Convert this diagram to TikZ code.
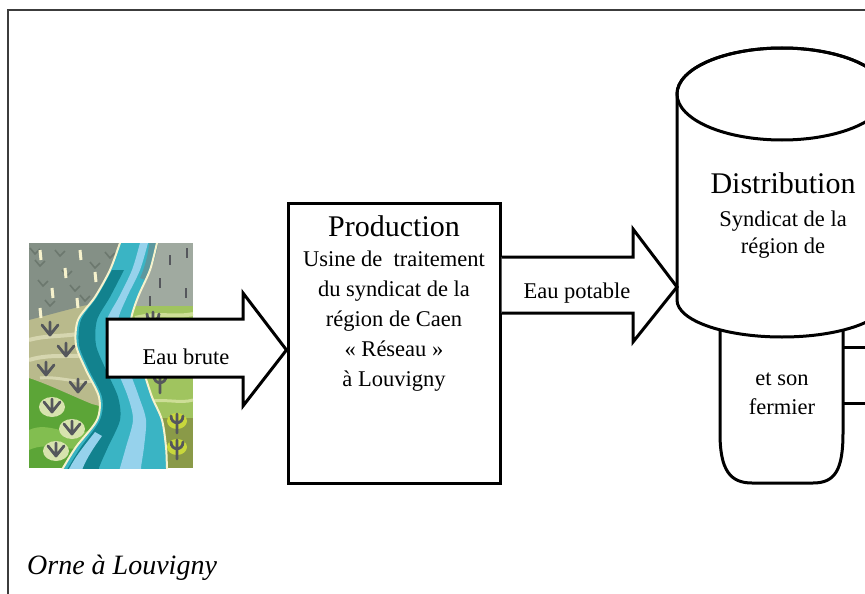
\documentclass[tikz,border=0pt]{standalone}
\usepackage{fontspec}
\setmainfont{Liberation Serif}
\definecolor{framecol}{RGB}{60,60,60}
\definecolor{lgray}{RGB}{132,144,134}
\definecolor{lgraydk}{RGB}{108,120,110}
\definecolor{rgray}{RGB}{160,170,160}
\definecolor{tanc}{RGB}{185,186,140}
\definecolor{tanl}{RGB}{214,214,176}
\definecolor{lgreen}{RGB}{92,165,55}
\definecolor{lgreenl}{RGB}{130,190,80}
\definecolor{rgreen}{RGB}{160,196,95}
\definecolor{rgreenl}{RGB}{205,222,150}
\definecolor{olivec}{RGB}{138,154,72}
\definecolor{teal}{RGB}{58,180,196}
\definecolor{tealdk}{RGB}{18,130,142}
\definecolor{bluel}{RGB}{150,210,236}
\definecolor{tealgr}{RGB}{92,152,158}
\definecolor{creamc}{RGB}{246,242,204}
\definecolor{markgray}{RGB}{85,87,92}
\definecolor{psiyel}{RGB}{200,215,60}
\tikzset{
  outl/.style={draw=black, line width=3pt, fill=white, line join=miter},
  bodyf/.style={font=\fontsize{22.5}{30}\selectfont},
  titlef/.style={font=\fontsize{30}{34}\selectfont},
  chev/.pic={\draw[markgray, line width=2.8pt, line cap=round, line join=round] (-8,-6) -- (0,4) -- (8,-6) (0,-9) -- (0,4);},
  chevh/.pic={\fill[creamc!80!lgreen] (0,-1) ellipse [x radius=13, y radius=10];
              \draw[markgray, line width=2.8pt, line cap=round, line join=round] (-8,-6) -- (0,4) -- (8,-6) (0,-9) -- (0,4);},
  psim/.pic={\draw[markgray, line width=2.8pt, line cap=round] (-6,-8) .. controls (-6,1) and (6,1) .. (6,-8) (0,-10) -- (0,9);},
  psih/.pic={\fill[psiyel] (0,-3) ellipse [x radius=10, y radius=8];
             \draw[markgray, line width=2.8pt, line cap=round] (-6,-8) .. controls (-6,1) and (6,1) .. (6,-8) (0,-10) -- (0,9);},
}
\begin{document}
\begin{tikzpicture}[x=1pt,y=-1pt]
\useasboundingbox (0,0) rectangle (865,594);
\clip (0,0) rectangle (865,594);
\fill[white] (0,0) rectangle (865,594);
\draw[framecol, line width=2.2pt] (8,600) -- (8,10) -- (870,10);

% ---------- river picture ----------
\begin{scope}
\clip (29,243) rectangle (193,468);
% left bank
\fill[lgreen] (29,243) rectangle (125,468);
\fill[lgreenl] (29,430) .. controls (50,420) and (70,440) .. (90,430) -- (90,445) .. controls (70,455) and (50,440) .. (29,450) -- cycle;
\fill[tanc] (29,318) -- (84,305) -- (115,300) -- (115,410) -- (92,404) .. controls (70,395) and (50,385) .. (29,378) -- cycle;
\draw[tanl, line width=4pt] (29,340) .. controls (50,334) and (70,338) .. (95,330);
\draw[tanl, line width=4pt] (29,360) .. controls (55,352) and (75,360) .. (100,352);
\draw[tanl, line width=3pt] (40,378) .. controls (60,376) and (80,385) .. (100,380);
\fill[lgray] (29,243) -- (125,243) -- (125,298) -- (82,306) -- (29,320) -- cycle;
\foreach \a/\b in {35/260,55/250,70/285,90/262,45/300,62/270,100/290,38/280,80/295,105/252,30/248}
  \draw[lgraydk, line width=1.6pt] (\a,\b) -- ++(5,6) -- ++(5,-5);
\foreach \a/\b in {40/250,80/250,65/268,95/272,52/288,77/298,40/308}
  \draw[creamc, line width=3pt] (\a,\b) -- ++(1,10);
% right bank
\fill[rgray] (125,243) rectangle (193,306);
\fill[rgreen] (125,306) rectangle (193,418);
\draw[rgreenl, line width=4pt] (135,318) .. controls (160,312) and (175,318) .. (193,314);
\draw[rgreenl, line width=3pt] (145,402) .. controls (165,398) and (180,404) .. (193,400);
\fill[olivec] (125,418) rectangle (193,468);
\foreach \a/\b in {170/255,187/248,160/278,186/288,150/296}
  \draw[markgray, line width=2.5pt] (\a,\b) -- ++(0,10);
% river
\fill[teal] plot[smooth] coordinates {(123,236) (120,243) (110,270) (95,297) (78,320) (76,345) (86,370) (99,397) (97,420) (76,447) (63,468) (58,476)}
  -- plot[smooth] coordinates {(168,476) (167,468) (166,447) (162,420) (152,397) (143,370) (133,345) (131,320) (138,297) (150,270) (157,243) (159,236)} -- cycle;
\fill[tealdk] plot[smooth] coordinates {(112,270) (97,297) (81,320) (79,345) (89,370) (102,397) (100,420) (81,447) (68,468) (64,476)}
  -- plot[smooth] coordinates {(100,476) (99,468) (108,447) (120,420) (118,397) (106,370) (96,345) (97,320) (110,297) (124,270)} -- cycle;
\fill[bluel] plot[smooth] coordinates {(142,236) (140,243) (132,270) (119,297) (107,320) (107,345) (117,370) (128,397) (133,420) (126,447) (120,468) (118,476)}
  -- plot[smooth] coordinates {(142,476) (141,468) (144,447) (146,420) (139,397) (129,370) (119,345) (118,320) (127,297) (140,270) (148,243) (150,236)} -- cycle;
\fill[tealgr] (150,236) -- (159,236) .. controls (157,255) and (152,268) .. (146,280) -- (140,278) .. controls (146,265) and (149,250) .. (150,236) -- cycle;
\fill[bluel] (66,476) .. controls (72,460) and (85,445) .. (95,432) -- (102,436) .. controls (92,450) and (84,462) .. (80,476) -- cycle;
\draw[creamc, line width=2pt] plot[smooth] coordinates {(123,236) (120,243) (110,270) (95,297) (78,320) (76,345) (86,370) (99,397) (97,420) (76,447) (63,468) (58,476)};
\draw[creamc, line width=2pt] plot[smooth] coordinates {(168,476) (167,468) (166,447) (162,420) (152,397) (143,370) (133,345) (131,320) (138,297) (150,270) (157,243) (159,236)};
% marks
\pic at (50,331) {chev};
\pic at (66,352) {chev};
\pic at (46,371) {chev};
\pic at (78,388) {chev};
\pic at (52,408) {chevh};
\pic at (72,430) {chevh};
\pic at (56,452) {chevh};
\pic at (153,322) {psim};
\pic at (160,384) {psim};
\pic at (177,424) {psih};
\pic at (177,450) {psih};
\end{scope}

% ---------- Production ----------
\node[draw=black, line width=3pt, minimum width=212pt, minimum height=280pt, inner sep=0pt] (prod) at (394,343) {};
\node[titlef] (prodtitle) at (394,226) {Production};
\node[bodyf, align=center] (prodbody) at (394,321) {Usine de\ \ traitement\\du syndicat de la\\région de Caen\\«~Réseau~»\\à Louvigny};

% ---------- Eau brute arrow ----------
\draw[outl] (107,319) -- (243,319) -- (243,293) -- (prod.west |- 0,350) -- (243,406) -- (243,377) -- (107,377) -- cycle;
\node[bodyf] (brute) at (186,357) {Eau brute};

% ---------- lower part of distribution ----------
\draw[outl] (720,300) -- (720,433) .. controls (720,470) and (730,483) .. (752,483) -- (813,483) .. controls (835,483) and (843,470) .. (843,433) -- (843,300);
\coordinate (s1) at (870,347);
\coordinate (s2) at (870,403);
\draw[line width=3pt] (843,347) -- (s1);
\draw[line width=3pt] (843,403) -- (s2);

% ---------- cylinder ----------
\draw[outl] (677,94) -- (677,300) arc[start angle=180, end angle=0, x radius=105, y radius=37] -- (887,94) arc[start angle=0, end angle=-180, x radius=105, y radius=46] -- cycle;
\draw[line width=3pt] (782,94) ellipse [x radius=105, y radius=46];
\coordinate (cylw) at (677,287);

% ---------- Eau potable arrow ----------
\draw[outl] (prod.east |- 0,257) -- (633,257) -- (633,229) -- (cylw) -- (633,342) -- (633,313) -- (prod.east |- 0,313);
\node[bodyf] (potable) at (577,293) {Eau potable};

% ---------- texts in distribution ----------
\node[titlef] (disttitle) at (783,183) {Distribution};
\node[font=\fontsize{22.5}{27}\selectfont, align=center] (distbody) at (783,235) {Syndicat de la\\région de};
\node[font=\fontsize{22.5}{29}\selectfont, align=center] (fermier) at (782,394) {et son\\fermier};

% ---------- caption ----------
\node[font=\fontsize{28}{32}\selectfont\itshape, anchor=west, inner sep=0pt] (caption) at (27,568) {Orne à Louvigny};
\end{tikzpicture}
\end{document}
